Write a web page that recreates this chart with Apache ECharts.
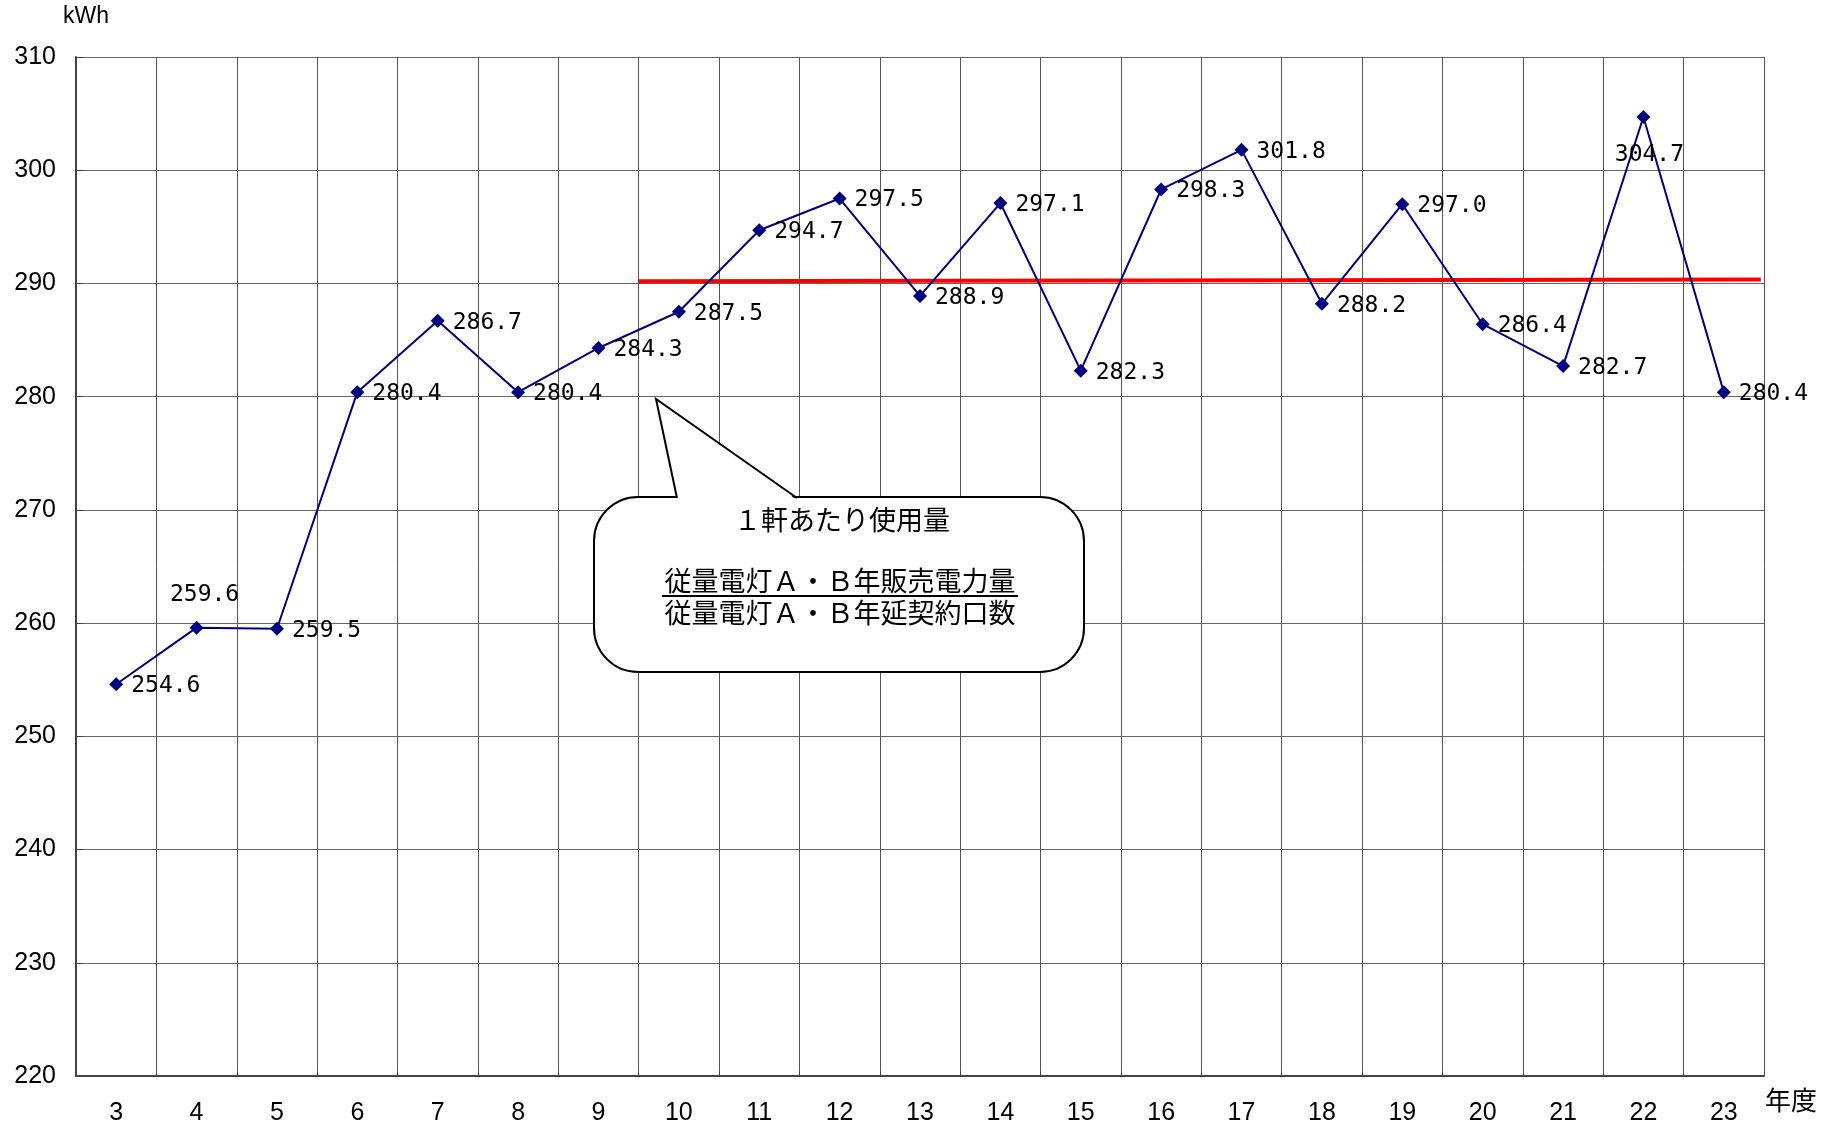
<!DOCTYPE html>
<html>
<head>
<meta charset="utf-8">
<script src="https://cdn.jsdelivr.net/npm/echarts@6/dist/echarts.min.js"></script>
<style>
  html, body { margin: 0; padding: 0; background: #fff; }
  #usage_chart { width: 1836px; height: 1126px; }
</style>
</head>
<body>
<div id="usage_chart"></div>
<script>
// 年度
var years = ["3", "4", "5", "6", "7", "8", "9", "10", "11", "12", "13",
  "14", "15", "16", "17", "18", "19", "20", "21", "22", "23"];
// 1軒あたり使用量 (kWh)
var usage = [254.6, 259.6, 259.5, 280.4, 286.7, 280.4, 284.3, 287.5, 294.7, 297.5, 288.9,
  297.1, 282.3, 298.3, 301.8, 288.2, 297.0, 286.4, 282.7, 304.7, 280.4];
// 赤い平均線 (category band position, kWh)
var avgX = [7, 20.96];
var avgY = [290.2, 290.35];
var yTicks = [220, 230, 240, 250, 260, 270, 280, 290, 300, 310];

var labelFont = "DejaVu Sans Mono";
var axisFont = "Liberation Sans";
var cjkFont = "Noto Sans CJK JP";

var myChart = echarts.init(document.getElementById("usage_chart"));

// label position tweaks for a couple of points
var usageData = usage.map(function (v, i) {
  var item = { value: v };
  if (years[i] === "4") {
    item.label = { position: "top", offset: [8, -6] };
  } else if (years[i] === "22") {
    item.label = { position: "bottom", offset: [6, 12] };
  }
  return item;
});

var option = {
  animation: false,
  backgroundColor: "#fff",
  grid: { left: 76, right: 72, top: 57, bottom: 49 },
  xAxis: [
    {
      type: "category",
      data: years,
      boundaryGap: true,
      axisLine: { lineStyle: { color: "#444", width: 2 } },
      axisTick: { show: true, inside: true, length: 5, lineStyle: { color: "#444" } },
      axisLabel: { color: "#000", fontSize: 25, fontFamily: axisFont, margin: 25 },
      splitLine: { show: true, lineStyle: { color: "#555", width: 1 } }
    },
    {
      type: "value",
      min: 0,
      max: years.length,
      show: false
    }
  ],
  yAxis: {
    type: "value",
    min: yTicks[0],
    max: yTicks[yTicks.length - 1],
    interval: 10,
    axisLine: { show: true, lineStyle: { color: "#444", width: 2 } },
    axisTick: { show: true, inside: true, length: 7, lineStyle: { color: "#444" } },
    axisLabel: { color: "#000", fontSize: 25, fontFamily: axisFont, margin: 20 },
    splitLine: { show: true, lineStyle: { color: "#666", width: 1 } }
  },
  series: [
    {
      name: "平均",
      type: "line",
      xAxisIndex: 1,
      data: avgX.map(function (x, i) { return [x, avgY[i]]; }),
      symbol: "none",
      lineStyle: { color: "#ff0000", width: 4 },
      z: 2
    },
    {
      name: "1軒あたり使用量",
      type: "line",
      data: usageData,
      symbol: "diamond",
      symbolSize: 14,
      lineStyle: { color: "#000080", width: 2 },
      itemStyle: { color: "#000080" },
      label: {
        show: true,
        position: "right",
        distance: 8,
        offset: [0, 2],
        color: "#000",
        fontSize: 23,
        fontFamily: labelFont,
        formatter: function (p) { return p.value.toFixed(1); }
      },
      z: 3
    }
  ],
  graphic: [
    {
      type: "text",
      left: 63,
      top: 5,
      style: { text: "kWh", fontSize: 23, fontFamily: axisFont, fill: "#000" }
    },
    {
      type: "text",
      left: 1765,
      top: 1087,
      style: { text: "年度", fontSize: 26, fontFamily: cjkFont, fill: "#000" }
    },
    // 吹き出し
    {
      type: "rect",
      z: 10,
      shape: { x: 594, y: 497, width: 490, height: 175, r: 44 },
      style: { fill: "#fff", stroke: "#000", lineWidth: 2 }
    },
    {
      type: "polygon",
      z: 11,
      shape: { points: [[677, 500], [656, 399], [797, 500]] },
      style: { fill: "#fff", stroke: null }
    },
    {
      type: "polyline",
      z: 12,
      shape: { points: [[677, 498], [656, 399], [797, 498]] },
      style: { fill: null, stroke: "#000", lineWidth: 2 }
    },
    {
      type: "text",
      z: 12,
      x: 842,
      y: 520,
      style: { text: "１軒あたり使用量", fontSize: 27, fontFamily: cjkFont, fill: "#000",
        align: "center", verticalAlign: "middle" }
    },
    {
      type: "text",
      z: 12,
      x: 840,
      y: 581,
      style: { text: "従量電灯Ａ・Ｂ年販売電力量", fontSize: 27, fontFamily: cjkFont, fill: "#000",
        align: "center", verticalAlign: "middle" }
    },
    {
      type: "line",
      z: 12,
      shape: { x1: 662, y1: 596, x2: 1018, y2: 596 },
      style: { stroke: "#000", lineWidth: 2 }
    },
    {
      type: "text",
      z: 12,
      x: 840,
      y: 613,
      style: { text: "従量電灯Ａ・Ｂ年延契約口数", fontSize: 27, fontFamily: cjkFont, fill: "#000",
        align: "center", verticalAlign: "middle" }
    }
  ]
};

myChart.setOption(option);
window.onresize = myChart.resize;
</script>
</body>
</html>
